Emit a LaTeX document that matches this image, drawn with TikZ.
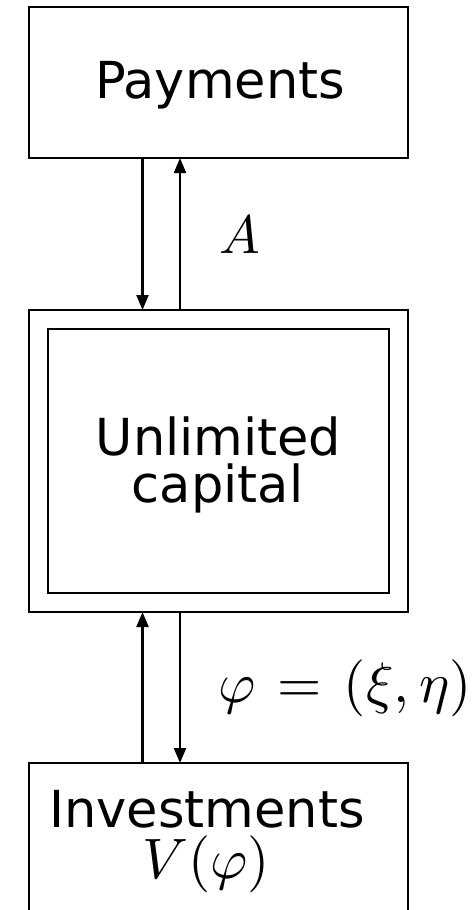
\documentclass[tikz,border=0pt]{standalone}
\usepackage{graphicx}
\usepackage{fontspec}
\setmainfont{DejaVu Sans}
\usetikzlibrary{arrows.meta}
\begin{document}
\begin{tikzpicture}[x=1pt,y=-1pt,
  box/.style={draw,line width=2.8pt,rectangle,inner sep=0pt,outer sep=0pt,minimum width=379pt},
  lbl/.style={inner sep=0pt,scale=5.7},
  txt/.style={inner sep=0pt,anchor=base,font=\fontsize{51}{43}\selectfont},
  flow/.style={line width=2.1pt,-{Triangle[length=15pt,width=12pt]}}]
\useasboundingbox (0,0) rectangle (475,910);
\clip (0,0) rectangle (475,910);
\node[box,minimum height=151pt] (pay) at (218.5,82.5) {};
\node[txt] (paytext) at (220,98) {Payments};
\node[box,minimum height=302pt] (cap) at (218.5,461) {};
\node[box,minimum width=341pt,minimum height=264pt] (capin) at (218.5,461) {};
\node[txt] (captext1) at (218.5,455) {Unlimited};
\node[txt] (captext2) at (217.5,502) {capital};
\node[box,minimum height=200pt] (inv) at (218.5,863) {};
\node[txt] (invtext1) at (207,827) {Investments};
\node[lbl,anchor=base] (invtext2) at (206,878) {$V(\varphi)$};
\coordinate (xa) at (142.5,0);
\coordinate (xb) at (180,0);
\draw[flow] (pay.south -| xa) -- (cap.north -| xa);
\draw[flow] (cap.north -| xb) -- (pay.south -| xb);
\draw[flow] (inv.north -| xa) -- (cap.south -| xa);
\draw[flow] (cap.south -| xb) -- (inv.north -| xb);
\node[lbl,scale=0.95,anchor=base] (la) at (240,253) {$A$};
\node[lbl,anchor=base west] (lphi) at (217,702) {$\varphi\mskip2mu=\mskip2mu(\xi,\eta)$};
\end{tikzpicture}
\end{document}
